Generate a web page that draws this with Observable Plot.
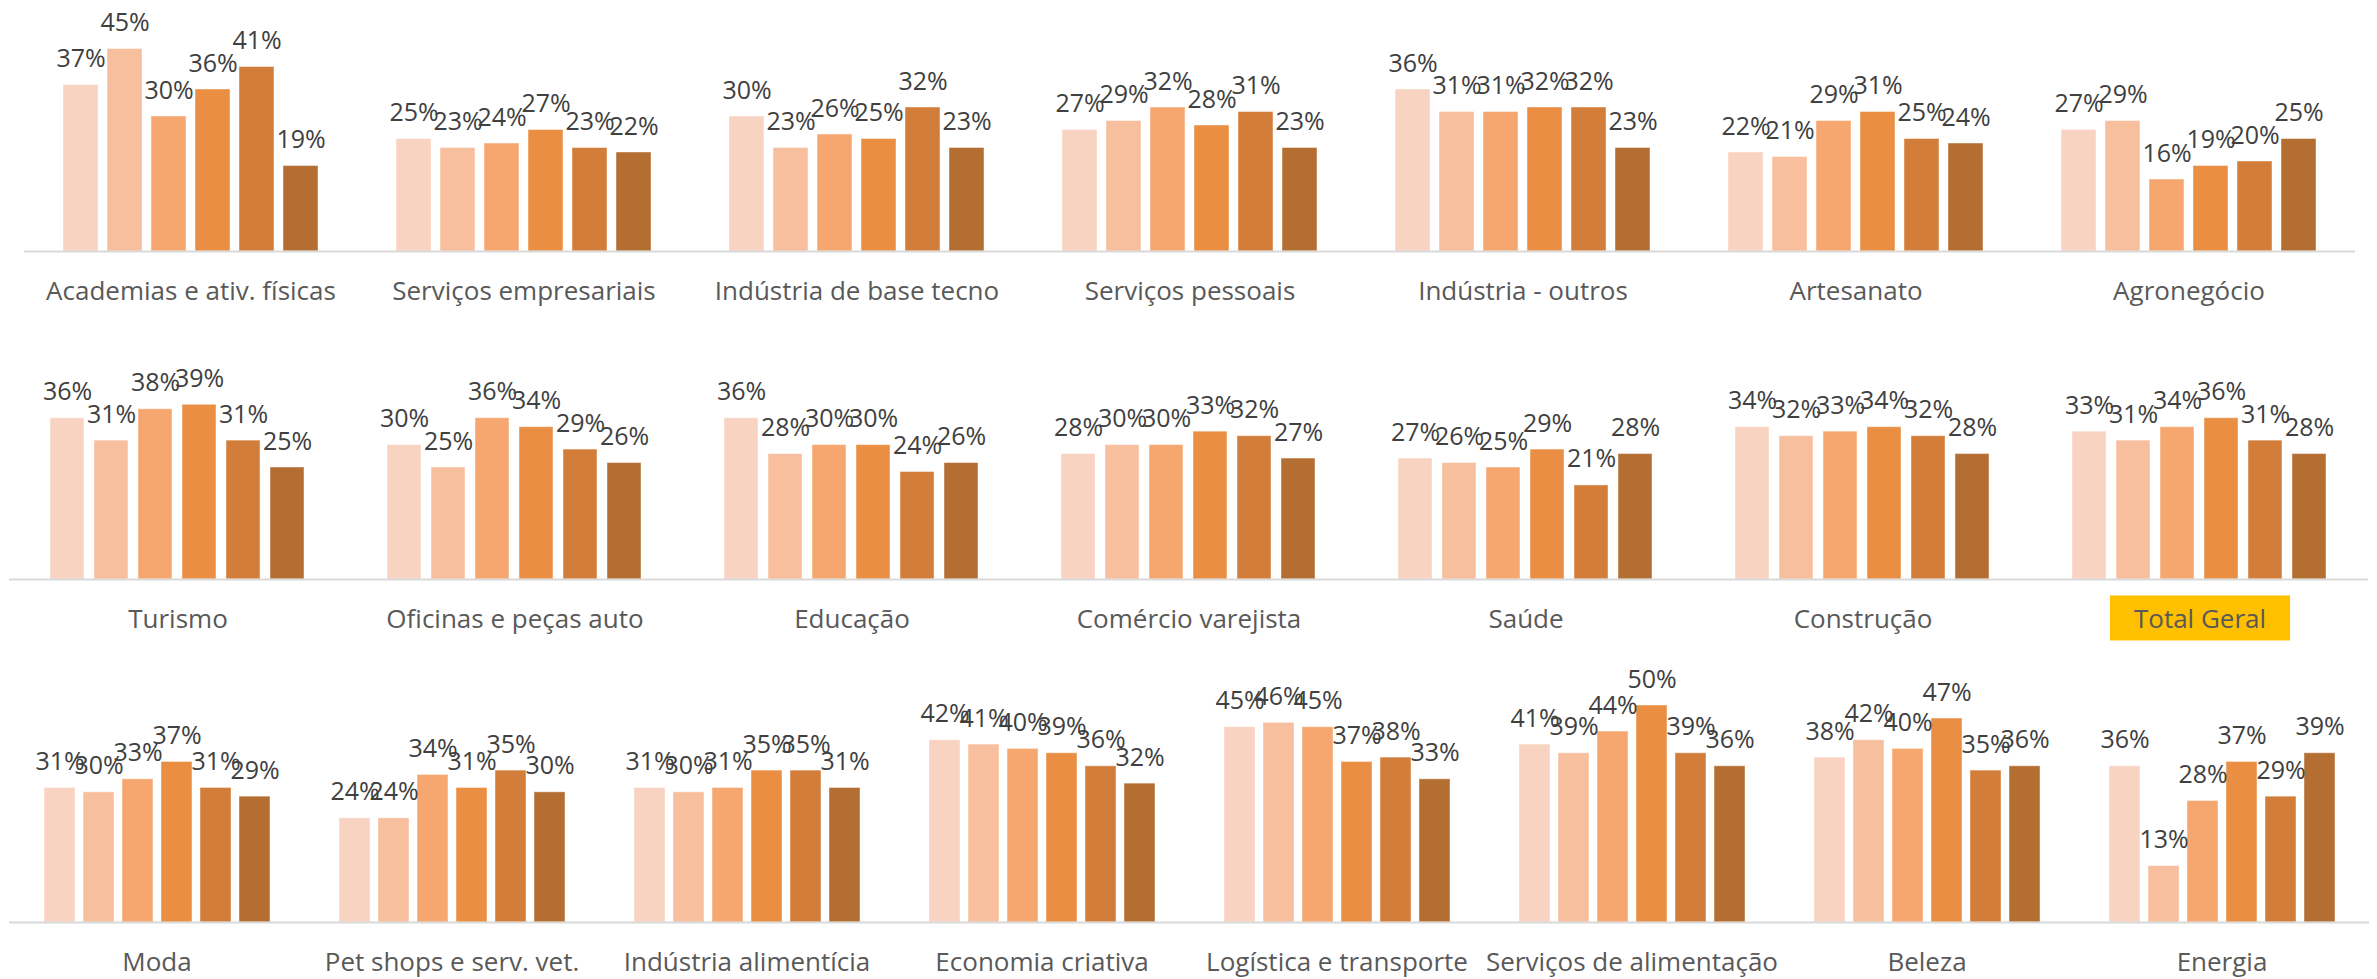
<!DOCTYPE html>
<html>
<head>
<meta charset="utf-8">
<script src="https://cdn.jsdelivr.net/npm/d3@7"></script>
<script src="https://cdn.jsdelivr.net/npm/@observablehq/plot@0.6"></script>
<style>
  body { margin: 0; background: #ffffff; }
  #chart { width: 2377px; height: 979px; overflow: hidden; background: #ffffff; }
  #chart svg { display: block; overflow: visible; }
</style>
</head>
<body>
<div id="chart"></div>
<script>
// ---- data ----
const series = ["S1", "S2", "S3", "S4", "S5", "S6"];
const seriesColors = ["#F9D3C1", "#F8BF9F", "#F6A66F", "#EA8E43", "#D27E3A", "#B56E32"];

const row1Categories = ["Academias e ativ. físicas", "Serviços empresariais", "Indústria de base tecno", "Serviços pessoais", "Indústria - outros", "Artesanato", "Agronegócio"];
const row1Values = [
  [37, 45, 30, 36, 41, 19],
  [25, 23, 24, 27, 23, 22],
  [30, 23, 26, 25, 32, 23],
  [27, 29, 32, 28, 31, 23],
  [36, 31, 31, 32, 32, 23],
  [22, 21, 29, 31, 25, 24],
  [27, 29, 16, 19, 20, 25]
];

const row2Categories = ["Turismo", "Oficinas e peças auto", "Educação", "Comércio varejista", "Saúde", "Construção", "Total Geral"];
const row2Values = [
  [36, 31, 38, 39, 31, 25],
  [30, 25, 36, 34, 29, 26],
  [36, 28, 30, 30, 24, 26],
  [28, 30, 30, 33, 32, 27],
  [27, 26, 25, 29, 21, 28],
  [34, 32, 33, 34, 32, 28],
  [33, 31, 34, 36, 31, 28]
];

const row3Categories = ["Moda", "Pet shops e serv. vet.", "Indústria alimentícia", "Economia criativa", "Logística e transporte", "Serviços de alimentação", "Beleza", "Energia"];
const row3Values = [
  [31, 30, 33, 37, 31, 29],
  [24, 24, 34, 31, 35, 30],
  [31, 30, 31, 35, 35, 31],
  [42, 41, 40, 39, 36, 32],
  [45, 46, 45, 37, 38, 33],
  [41, 39, 44, 50, 39, 36],
  [38, 42, 40, 47, 35, 36],
  [36, 13, 28, 37, 29, 39]
];

const highlightCategory = "Total Geral";

// ---- drawing ----
function makeRow(categories, values, o) {
  const data = [];
  categories.forEach((c, i) => values[i].forEach((v, j) => data.push({cat: c, s: series[j], v})));
  return Plot.plot({
    width: 2377,
    height: o.height,
    marginTop: o.mt, marginBottom: o.mb, marginLeft: o.ml, marginRight: o.mr,
    style: {fontFamily: "'Open Sans', 'Noto Sans', sans-serif", background: "#ffffff", overflow: "visible"},
    fx: {domain: categories, padding: 0, label: null},
    x: {domain: series, paddingInner: o.pi, paddingOuter: o.po, axis: null},
    y: {domain: [0, 50], axis: null},
    color: {domain: series, range: seriesColors},
    marks: [
      Plot.barY(data, {fx: "cat", x: "s", y: "v", fill: "s", stroke: "#ffffff", strokeOpacity: 0.45, strokeWidth: 1}),
      Plot.ruleY([0], {stroke: "#D9D9D9", strokeWidth: 2}),
      Plot.text(data, {fx: "cat", x: "s", y: "v", text: d => d.v + "%", lineAnchor: "bottom", dy: -18, fontSize: 25, fill: "#404040"}),
      Plot.axisFx({anchor: "bottom", tickSize: 0, tickPadding: 30, fontSize: 26, color: "#595959", label: null})
    ]
  });
}

const container = document.getElementById("chart");
const r1 = makeRow(row1Categories, row1Values, {height: 330, mt: 26, mb: 79, ml: 22, mr: 21, pi: 0.215, po: 0.845});
const r2 = makeRow(row2Categories, row2Values, {height: 320, mt: 25, mb: 71, ml: 9, mr: 9, pi: 0.219, po: 0.87});
const r3 = makeRow(row3Categories, row3Values, {height: 329, mt: 55, mb: 57, ml: 9, mr: 8, pi: 0.21, po: 0.867});
container.append(r1, r2, r3);

// yellow highlight box behind the "Total Geral" label
d3.select(r2).selectAll("text").each(function () {
  if (this.textContent === highlightCategory) {
    const bb = this.getBBox();
    const cy = bb.y + bb.height / 2;
    const rect = document.createElementNS("http://www.w3.org/2000/svg", "rect");
    rect.setAttribute("x", bb.x - 24);
    rect.setAttribute("y", cy - 22.5);
    rect.setAttribute("width", bb.width + 48);
    rect.setAttribute("height", 45);
    rect.setAttribute("fill", "#FFC000");
    const t = this.getAttribute("transform");
    if (t) rect.setAttribute("transform", t);
    this.parentNode.insertBefore(rect, this);
  }
});
</script>
</body>
</html>
